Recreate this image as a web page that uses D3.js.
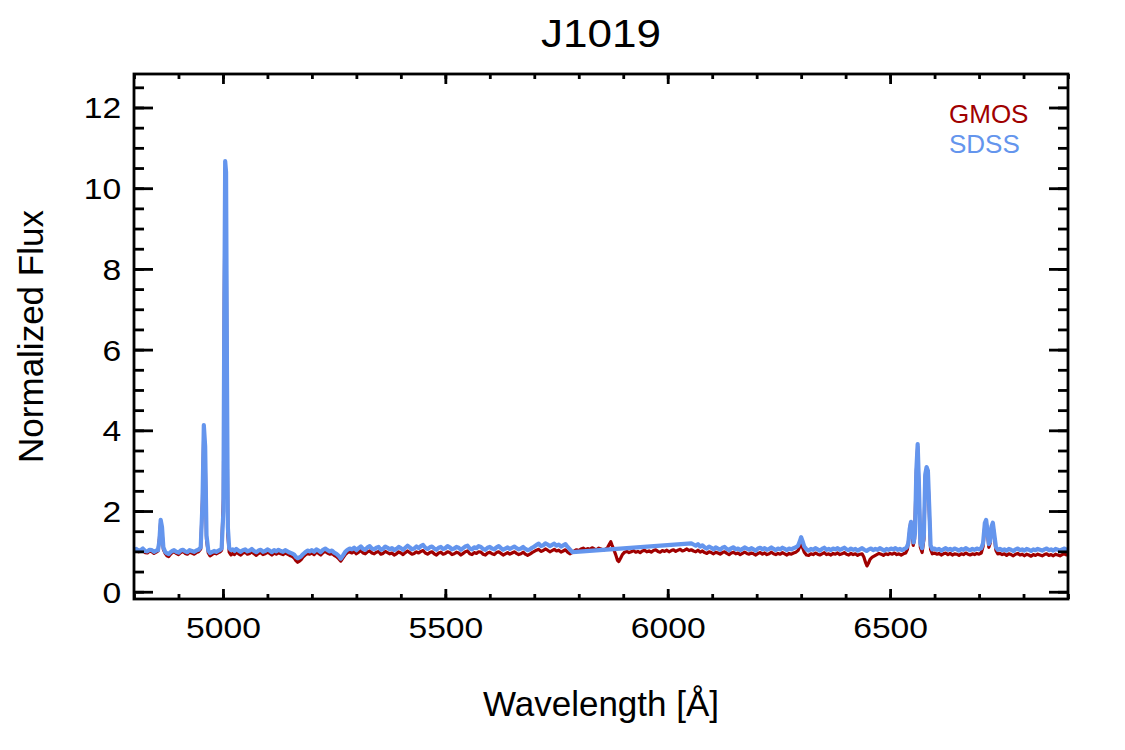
<!DOCTYPE html>
<html>
<head>
<meta charset="utf-8">
<script src="https://cdn.jsdelivr.net/npm/d3@7"></script>
<style>
body { margin: 0; background: #fff; }
text { font-family: "Liberation Sans", Arial, sans-serif; }
</style>
</head>
<body>
<svg class="spec-svg"></svg>
<script>
var title_text = 'J1019';
var x_label = 'Wavelength [\u00c5]';
var y_label = 'Normalized Flux';
var x_range = [4800, 6900];
var y_range = [-0.18, 12.83];
var x_ticks = [5000, 5500, 6000, 6500];
var y_ticks = [0, 2, 4, 6, 8, 10, 12];
var series_names = ['GMOS', 'SDSS'];

// [wavelength, flux]
var gmos = [
[4800,1.01],[4805,1.03],[4810,0.99],[4815,1.00],[4820,1.04],[4825,0.97],[4830,0.96],[4835,1.01],[4840,0.99],[4845,0.95],
[4850,0.98],[4854,1.01],[4857,1.30],[4860,1.75],[4863,1.50],[4866,1.05],[4870,0.95],[4874,0.89],[4878,0.87],[4882,0.93],
[4886,0.97],[4890,0.99],[4895,0.95],[4900,0.92],[4905,0.97],[4910,1.00],[4915,0.95],[4920,0.93],[4925,0.98],[4930,0.96],
[4935,0.93],[4940,0.97],[4945,0.99],[4950,1.06],[4954,2.30],[4957,4.05],[4960,3.40],[4963,1.30],[4967,0.96],[4971,0.89],
[4975,0.92],[4980,0.96],[4985,0.94],[4990,0.97],[4994,0.99],[4997,1.03],[5001,2.30],[5003,7.20],[5005,10.50],[5007,9.80],
[5009,5.00],[5011,1.40],[5014,0.98],[5018,0.91],[5022,0.95],[5026,0.92],[5030,0.98],[5035,0.94],[5040,0.91],[5045,0.96],
[5050,0.98],[5055,0.93],[5060,0.95],[5065,0.99],[5070,0.94],[5075,0.90],[5080,0.95],[5085,0.97],[5090,0.92],[5095,0.94],
[5100,0.98],[5105,0.95],[5110,0.91],[5115,0.96],[5120,0.93],[5125,0.97],[5130,0.94],[5135,0.92],[5140,0.96],[5145,0.93],
[5150,0.90],[5155,0.88],[5160,0.84],[5164,0.77],[5168,0.73],[5172,0.76],[5176,0.80],[5180,0.86],[5185,0.91],[5190,0.95],
[5195,0.93],[5200,0.96],[5205,0.92],[5210,0.98],[5215,0.95],[5220,0.91],[5225,0.97],[5230,1.00],[5235,0.96],[5240,0.93],
[5245,0.95],[5250,0.90],[5255,0.87],[5260,0.82],[5265,0.76],[5270,0.84],[5275,0.92],[5280,0.97],[5285,0.99],[5290,0.96],
[5295,1.00],[5300,0.94],[5305,0.98],[5310,1.02],[5315,0.96],[5320,0.94],[5325,0.99],[5330,1.01],[5335,0.96],[5340,0.94],
[5345,0.98],[5350,1.00],[5355,0.93],[5360,0.95],[5365,1.00],[5370,0.97],[5375,0.94],[5380,0.96],[5385,0.91],[5390,0.94],
[5395,0.99],[5400,0.96],[5405,0.92],[5410,0.97],[5415,1.01],[5420,0.97],[5425,0.93],[5430,0.95],[5435,0.99],[5440,0.96],
[5445,1.00],[5450,1.02],[5455,0.96],[5460,0.93],[5465,0.97],[5470,0.99],[5475,0.94],[5480,0.91],[5485,0.96],[5490,0.98],
[5495,0.93],[5500,0.95],[5505,0.99],[5510,0.97],[5515,0.92],[5520,0.94],[5525,0.98],[5530,0.96],[5535,0.91],[5540,0.95],
[5545,0.99],[5550,1.01],[5555,0.94],[5560,0.92],[5565,0.97],[5570,0.95],[5575,0.99],[5580,0.98],[5585,0.93],[5590,0.91],
[5595,0.96],[5600,0.98],[5605,0.94],[5610,0.92],[5615,0.97],[5620,0.99],[5625,0.95],[5630,0.91],[5635,0.94],[5640,0.97],
[5645,0.93],[5650,0.96],[5655,0.99],[5660,0.95],[5665,0.92],[5670,0.94],[5675,0.98],[5680,0.93],[5685,0.90],[5690,0.93],
[5695,0.97],[5700,1.00],[5705,1.03],[5710,1.05],[5715,1.00],[5720,1.02],[5725,1.06],[5730,1.03],[5735,0.99],[5740,1.02],
[5745,1.05],[5750,1.01],[5755,1.03],[5760,0.98],[5765,1.01],[5770,1.04],[5775,0.98],[5780,0.94],[5785,0.97],[5790,1.01],
[5795,1.04],[5800,1.02],[5805,1.06],[5810,1.08],[5815,1.04],[5820,1.07],[5825,1.05],[5830,1.09],[5835,1.06],[5840,1.04],
[5845,1.08],[5850,1.06],[5855,1.03],[5860,1.05],[5865,1.10],[5869,1.18],[5872,1.24],[5875,1.15],[5879,1.04],[5883,0.92],
[5887,0.78],[5890,0.75],[5894,0.83],[5898,0.92],[5903,0.98],[5908,1.00],[5913,0.97],[5918,0.99],[5923,1.02],[5928,0.98],
[5933,1.00],[5938,0.97],[5943,1.01],[5948,1.03],[5953,0.99],[5958,1.01],[5963,0.98],[5968,1.02],[5973,1.04],[5978,1.00],
[5983,0.98],[5988,1.02],[5993,1.00],[5998,1.03],[6003,0.99],[6008,1.02],[6013,1.04],[6018,1.00],[6023,1.03],[6028,1.05],
[6033,1.01],[6038,1.03],[6043,1.06],[6048,1.02],[6053,1.04],[6058,1.01],[6063,0.99],[6068,1.03],[6073,0.98],[6078,1.01],
[6083,0.97],[6088,0.95],[6093,0.99],[6098,0.97],[6103,0.94],[6108,0.98],[6113,0.96],[6118,0.93],[6123,0.97],[6128,0.99],
[6133,0.95],[6138,0.92],[6143,0.96],[6148,0.98],[6153,0.94],[6158,0.96],[6163,0.92],[6168,0.95],[6173,0.98],[6178,0.95],
[6183,0.93],[6188,0.96],[6193,0.94],[6198,0.91],[6203,0.95],[6208,0.97],[6213,0.93],[6218,0.96],[6223,0.92],[6228,0.94],
[6233,0.98],[6238,0.94],[6243,0.92],[6248,0.95],[6253,0.93],[6258,0.97],[6263,0.94],[6268,0.91],[6273,0.95],[6278,0.93],
[6283,0.96],[6288,0.98],[6293,1.02],[6297,1.12],[6300,1.20],[6303,1.10],[6307,0.98],[6312,0.91],[6317,0.90],[6322,0.94],
[6327,0.92],[6332,0.96],[6337,0.93],[6342,0.91],[6347,0.94],[6352,0.97],[6357,0.92],[6362,0.94],[6367,0.91],[6372,0.95],
[6377,0.93],[6382,0.96],[6387,0.92],[6392,0.94],[6397,0.97],[6402,0.93],[6407,0.91],[6412,0.95],[6417,0.92],[6422,0.94],
[6427,0.90],[6432,0.93],[6437,0.94],[6441,0.86],[6445,0.72],[6448,0.64],[6451,0.70],[6455,0.80],[6460,0.86],[6465,0.89],
[6470,0.92],[6475,0.95],[6480,0.93],[6485,0.90],[6490,0.94],[6495,0.92],[6500,0.95],[6505,0.93],[6510,0.96],[6515,0.92],
[6520,0.94],[6525,0.91],[6530,0.94],[6535,0.96],[6539,1.05],[6543,1.40],[6546,1.70],[6549,1.55],[6552,1.15],[6555,1.30],
[6559,2.95],[6562,3.60],[6565,2.50],[6568,1.10],[6572,0.97],[6576,1.30],[6579,2.85],[6582,3.02],[6585,2.90],[6588,2.00],
[6591,1.05],[6595,0.94],[6600,0.96],[6605,0.93],[6610,0.95],[6615,0.91],[6620,0.94],[6625,0.96],[6630,0.92],[6635,0.95],
[6640,0.91],[6645,0.94],[6650,0.93],[6655,0.90],[6660,0.94],[6665,0.92],[6670,0.96],[6675,0.93],[6680,0.91],[6685,0.94],
[6690,0.92],[6695,0.95],[6700,0.93],[6705,0.96],[6709,1.12],[6713,1.65],[6716,1.75],[6719,1.45],[6722,1.10],[6725,1.20],
[6728,1.58],[6731,1.68],[6734,1.40],[6738,1.02],[6742,0.94],[6747,0.95],[6752,0.92],[6757,0.94],[6762,0.90],[6767,0.94],
[6772,0.92],[6777,0.89],[6782,0.93],[6787,0.95],[6792,0.91],[6797,0.93],[6802,0.89],[6807,0.93],[6812,0.91],[6817,0.88],
[6822,0.92],[6827,0.90],[6832,0.93],[6837,0.91],[6842,0.89],[6847,0.92],[6852,0.94],[6857,0.90],[6862,0.92],[6867,0.89],
[6872,0.93],[6877,0.91],[6882,0.89],[6887,0.92],[6892,0.94],[6897,0.91],[6900,0.92]
];

var sdss = [
[4800,1.04],[4805,1.06],[4810,1.02],[4815,1.03],[4820,1.07],[4825,1.01],[4830,1.00],[4835,1.04],[4840,1.03],[4845,0.99],
[4850,1.02],[4854,1.03],[4857,1.25],[4860,1.78],[4863,1.60],[4866,1.10],[4870,0.99],[4874,0.95],[4878,0.93],[4882,0.98],
[4886,1.01],[4890,1.03],[4895,0.99],[4900,0.97],[4905,1.02],[4910,1.04],[4915,1.00],[4920,0.98],[4925,1.03],[4930,1.01],
[4935,0.99],[4940,1.02],[4945,1.04],[4950,1.10],[4954,2.20],[4957,4.13],[4960,3.60],[4963,1.40],[4967,1.02],[4971,0.96],
[4975,0.98],[4980,1.01],[4985,0.99],[4990,1.02],[4994,1.04],[4997,1.07],[5001,2.00],[5003,6.80],[5005,10.67],[5007,10.40],
[5009,5.50],[5011,1.60],[5014,1.08],[5018,1.03],[5022,1.05],[5026,1.01],[5030,1.06],[5035,1.02],[5040,0.99],[5045,1.03],
[5050,1.05],[5055,1.00],[5060,1.02],[5065,1.06],[5070,1.01],[5075,0.98],[5080,1.02],[5085,1.04],[5090,0.99],[5095,1.01],
[5100,1.05],[5105,1.02],[5110,0.98],[5115,1.03],[5120,1.00],[5125,1.04],[5130,1.01],[5135,0.99],[5140,1.03],[5145,1.00],
[5150,0.97],[5155,0.95],[5160,0.92],[5164,0.86],[5168,0.83],[5172,0.85],[5176,0.88],[5180,0.93],[5185,0.98],[5190,1.02],
[5195,1.00],[5200,1.03],[5205,0.99],[5210,1.05],[5215,1.02],[5220,0.98],[5225,1.04],[5230,1.07],[5235,1.03],[5240,1.00],
[5245,1.02],[5250,0.97],[5255,0.94],[5260,0.89],[5265,0.82],[5270,0.90],[5275,0.99],[5280,1.04],[5285,1.07],[5290,1.05],
[5295,1.09],[5300,1.03],[5305,1.08],[5310,1.12],[5315,1.06],[5320,1.04],[5325,1.10],[5330,1.13],[5335,1.07],[5340,1.05],
[5345,1.09],[5350,1.11],[5355,1.04],[5360,1.06],[5365,1.12],[5370,1.09],[5375,1.05],[5380,1.08],[5385,1.03],[5390,1.06],
[5395,1.11],[5400,1.08],[5405,1.04],[5410,1.09],[5415,1.14],[5420,1.10],[5425,1.05],[5430,1.07],[5435,1.12],[5440,1.08],
[5445,1.13],[5450,1.16],[5455,1.09],[5460,1.06],[5465,1.10],[5470,1.12],[5475,1.07],[5480,1.04],[5485,1.09],[5490,1.11],
[5495,1.06],[5500,1.08],[5505,1.13],[5510,1.10],[5515,1.05],[5520,1.07],[5525,1.11],[5530,1.09],[5535,1.04],[5540,1.08],
[5545,1.12],[5550,1.14],[5555,1.07],[5560,1.05],[5565,1.10],[5570,1.08],[5575,1.13],[5580,1.11],[5585,1.06],[5590,1.04],
[5595,1.09],[5600,1.11],[5605,1.07],[5610,1.05],[5615,1.10],[5620,1.13],[5625,1.08],[5630,1.04],[5635,1.07],[5640,1.10],
[5645,1.06],[5650,1.09],[5655,1.12],[5660,1.08],[5665,1.05],[5670,1.07],[5675,1.11],[5680,1.06],[5685,1.03],[5690,1.05],
[5695,1.09],[5700,1.12],[5705,1.16],[5710,1.19],[5715,1.13],[5720,1.15],[5725,1.20],[5730,1.17],[5735,1.13],[5740,1.16],
[5745,1.19],[5750,1.14],[5755,1.17],[5760,1.12],[5765,1.15],[5770,1.18],[5775,1.11],[5780,1.05],[5786,0.98],[6053,1.20],
[6058,1.17],[6063,1.14],[6068,1.18],[6073,1.12],[6078,1.15],[6083,1.10],[6088,1.07],[6093,1.12],[6098,1.09],[6103,1.05],
[6108,1.10],[6113,1.07],[6118,1.04],[6123,1.09],[6128,1.11],[6133,1.06],[6138,1.03],[6143,1.08],[6148,1.10],[6153,1.05],
[6158,1.07],[6163,1.03],[6168,1.06],[6173,1.10],[6178,1.07],[6183,1.04],[6188,1.08],[6193,1.05],[6198,1.02],[6203,1.07],
[6208,1.09],[6213,1.05],[6218,1.08],[6223,1.04],[6228,1.06],[6233,1.10],[6238,1.06],[6243,1.03],[6248,1.07],[6253,1.05],
[6258,1.09],[6263,1.06],[6268,1.03],[6273,1.07],[6278,1.05],[6283,1.08],[6288,1.10],[6293,1.14],[6297,1.25],[6300,1.35],
[6303,1.26],[6307,1.12],[6312,1.05],[6317,1.02],[6322,1.06],[6327,1.04],[6332,1.08],[6337,1.05],[6342,1.02],[6347,1.06],
[6352,1.09],[6357,1.04],[6362,1.06],[6367,1.03],[6372,1.07],[6377,1.05],[6382,1.08],[6387,1.04],[6392,1.06],[6397,1.09],
[6402,1.05],[6407,1.03],[6412,1.07],[6417,1.04],[6422,1.06],[6427,1.02],[6432,1.05],[6437,1.08],[6442,1.04],[6447,1.01],
[6452,1.05],[6457,1.07],[6462,1.03],[6467,1.06],[6472,1.04],[6477,1.08],[6482,1.05],[6487,1.02],[6492,1.06],[6497,1.04],
[6502,1.07],[6507,1.05],[6512,1.08],[6517,1.04],[6522,1.06],[6527,1.03],[6532,1.06],[6537,1.09],[6541,1.20],[6544,1.55],
[6547,1.73],[6550,1.45],[6553,1.22],[6556,1.45],[6559,3.00],[6562,3.66],[6565,2.60],[6568,1.20],[6572,1.08],[6576,1.40],
[6579,2.90],[6582,3.09],[6585,3.00],[6588,2.10],[6591,1.15],[6595,1.05],[6600,1.07],[6605,1.04],[6610,1.06],[6615,1.02],
[6620,1.05],[6625,1.08],[6630,1.04],[6635,1.06],[6640,1.03],[6645,1.07],[6650,1.05],[6655,1.02],[6660,1.06],[6665,1.04],
[6670,1.08],[6675,1.05],[6680,1.03],[6685,1.06],[6690,1.04],[6695,1.07],[6700,1.05],[6705,1.08],[6709,1.20],[6713,1.70],
[6716,1.78],[6719,1.50],[6722,1.18],[6725,1.25],[6728,1.62],[6731,1.71],[6734,1.45],[6738,1.10],[6742,1.04],[6747,1.06],
[6752,1.03],[6757,1.05],[6762,1.02],[6767,1.06],[6772,1.04],[6777,1.01],[6782,1.05],[6787,1.07],[6792,1.03],[6797,1.05],
[6802,1.02],[6807,1.06],[6812,1.04],[6817,1.01],[6822,1.05],[6827,1.03],[6832,1.06],[6837,1.04],[6842,1.02],[6847,1.05],
[6852,1.07],[6857,1.03],[6862,1.05],[6867,1.02],[6872,1.06],[6877,1.04],[6882,1.02],[6887,1.05],[6892,1.07],[6897,1.04],
[6900,1.05]
];

var width = 1125, height = 750;
var margin = {left: 134, right: 57, top: 74, bottom: 151};
var plot_w = width - margin.left - margin.right;
var plot_h = height - margin.top - margin.bottom;
var colors = ['#a00000', '#6495ed'];
var stretch = 'scale(1.16,1)';

var svg = d3.select('.spec-svg').attr('width', width).attr('height', height);
svg.append('rect').attr('width', width).attr('height', height).attr('fill', '#fff');

var x = d3.scaleLinear().domain(x_range).range([0, plot_w]);
var y = d3.scaleLinear().domain(y_range).range([plot_h, 0]);

var g = svg.append('g').attr('transform', 'translate(' + margin.left + ',' + margin.top + ')');

g.append('clipPath').attr('id', 'plot-clip')
	.append('rect').attr('width', plot_w).attr('height', plot_h);

var line = d3.line().x(function(d) { return x(d[0]); }).y(function(d) { return y(d[1]); });
var all_series = [gmos, sdss];
var widths = [3.2, 4.2];
for (var i in all_series) {
	g.append('path')
		.datum(all_series[i])
		.attr('clip-path', 'url(#plot-clip)')
		.attr('fill', 'none')
		.attr('stroke', colors[i])
		.attr('stroke-width', widths[i])
		.attr('stroke-linejoin', 'round')
		.attr('d', line);
}

var x_minor = d3.range(4800, 6901, 100);
var y_minor = d3.range(0, 12.6, 0.5);

function style_axis(sel) {
	sel.select('.domain').remove();
	sel.selectAll('line').attr('stroke', '#000').attr('stroke-width', 2.8);
	sel.selectAll('text').attr('fill', '#000').attr('font-size', 29);
}

g.append('g').attr('transform', 'translate(0,' + plot_h + ')')
	.call(d3.axisBottom(x).tickValues(x_minor).tickSize(-5).tickFormat(''))
	.call(style_axis);
var xb = g.append('g').attr('transform', 'translate(0,' + plot_h + ')')
	.call(d3.axisBottom(x).tickValues(x_ticks).tickSize(-10).tickPadding(39).tickFormat(d3.format('d')))
	.call(style_axis);
xb.selectAll('text').attr('dy', '0em').attr('transform', stretch);

g.append('g').call(d3.axisTop(x).tickValues(x_minor).tickSize(-5).tickFormat('')).call(style_axis);
g.append('g').call(d3.axisTop(x).tickValues(x_ticks).tickSize(-10).tickFormat('')).call(style_axis);

g.append('g').call(d3.axisLeft(y).tickValues(y_minor).tickSize(-10).tickFormat('')).call(style_axis);
var yl = g.append('g').call(d3.axisLeft(y).tickValues(y_ticks).tickSize(-19).tickPadding(11).tickFormat(d3.format('d')))
	.call(style_axis);
yl.selectAll('text').attr('dy', '0.36em').attr('transform', stretch);

g.append('g').attr('transform', 'translate(' + plot_w + ',0)')
	.call(d3.axisRight(y).tickValues(y_minor).tickSize(-10).tickFormat('')).call(style_axis);
g.append('g').attr('transform', 'translate(' + plot_w + ',0)')
	.call(d3.axisRight(y).tickValues(y_ticks).tickSize(-19).tickFormat('')).call(style_axis);

g.append('rect')
	.attr('width', plot_w).attr('height', plot_h)
	.attr('fill', 'none').attr('stroke', '#000').attr('stroke-width', 2.8);

svg.append('text')
	.attr('transform', 'translate(' + (margin.left + plot_w / 2) + ',47) ' + stretch)
	.attr('text-anchor', 'middle').attr('font-size', 38).text(title_text);

svg.append('text')
	.attr('x', margin.left + plot_w / 2).attr('y', 716)
	.attr('text-anchor', 'middle').attr('font-size', 35).text(x_label);

svg.append('text')
	.attr('transform', 'translate(43,' + (margin.top + plot_h / 2) + ') rotate(-90)')
	.attr('text-anchor', 'middle').attr('font-size', 35).text(y_label);

for (var j in series_names) {
	svg.append('text')
		.attr('x', 949).attr('y', 123 + j * 30)
		.attr('fill', colors[j]).attr('font-size', 26)
		.text(series_names[j]);
}
</script>
</body>
</html>
